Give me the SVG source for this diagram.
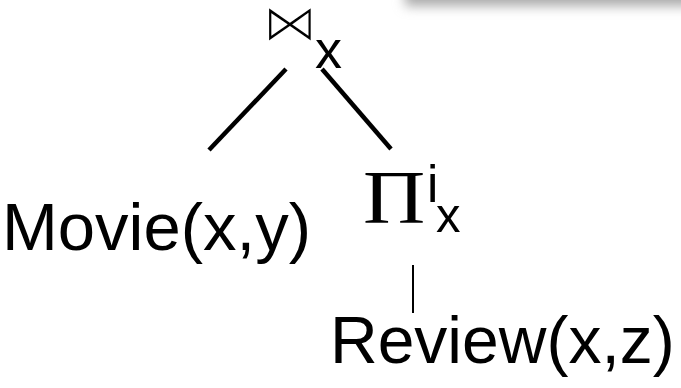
<svg xmlns="http://www.w3.org/2000/svg" width="681" height="388" viewBox="0 0 681 388">
<defs>
<filter id="blur" x="-20%" y="-100%" width="140%" height="300%"><feGaussianBlur stdDeviation="6"/></filter>
</defs>
<style>
.s{font-family:"Liberation Sans",Arial,sans-serif;fill:#000}
.m{font-family:"Liberation Serif","Times New Roman",serif;fill:#000}
.b{font-family:"DejaVu Sans",sans-serif;fill:#000;stroke:#fff;stroke-width:2.4}
.e{stroke:#000;fill:none}
</style>
<rect x="405" y="-40" width="300" height="46" fill="#aaaaaa" filter="url(#blur)"/>
<g id="join">
<text class="b" x="0" y="0" font-size="57" transform="translate(262,41) scale(0.98,0.93)">⋈</text>
<text class="s" x="315" y="68" font-size="54">x</text>
</g>
<g id="movie">
<text class="s" x="2" y="250" font-size="67">Movie(x,y)</text>
</g>
<g id="project">
<text class="m" x="0" y="0" font-size="77" transform="translate(363,223) scale(1.12,1)">Π</text>
<text class="s" x="427" y="202" font-size="51">i</text>
<text class="s" x="436" y="232" font-size="49">x</text>
</g>
<g id="review">
<text class="s" x="330" y="363" font-size="66">Review(x,z)</text>
</g>
<g id="connectors">
<line class="e" x1="286" y1="69" x2="209" y2="150" stroke-width="4.5"/>
<line class="e" x1="322" y1="69" x2="391" y2="149" stroke-width="4.5"/>
<line class="e" x1="413" y1="265" x2="413" y2="313" stroke-width="2"/>
</g>
</svg>
